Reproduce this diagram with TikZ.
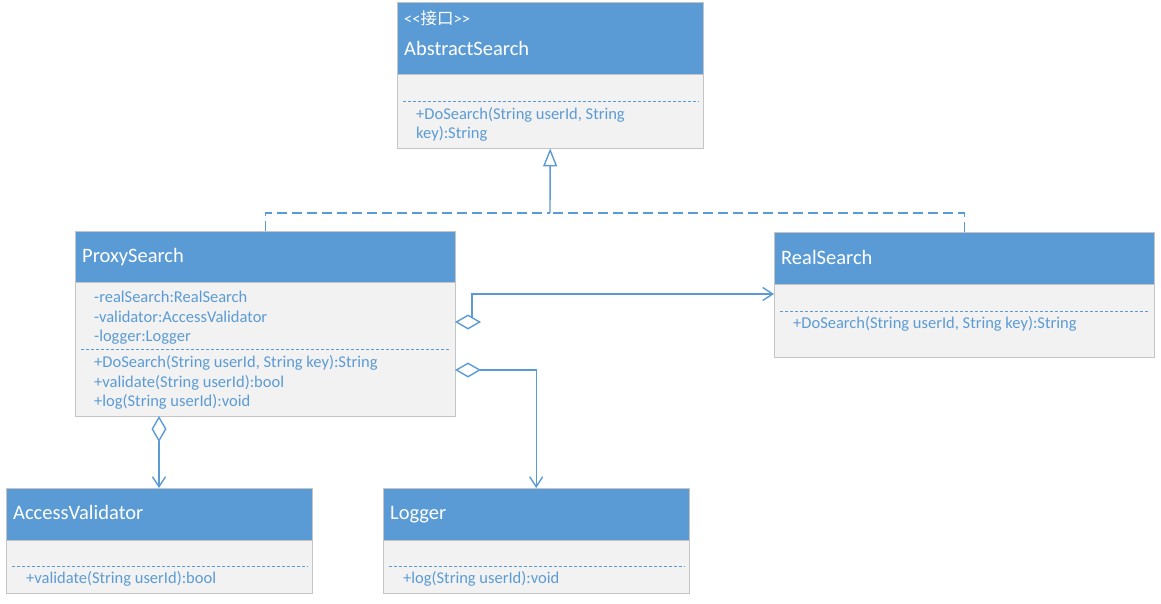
\documentclass[tikz,border=0pt]{standalone}
\usepackage{fontspec}
\setmainfont{Carlito}
\newfontfamily\cjk{Noto Sans CJK SC}
\usetikzlibrary{arrows.meta}
\definecolor{umlblue}{HTML}{5B9BD5}
\definecolor{bodygray}{HTML}{F2F2F2}
\definecolor{boxline}{HTML}{C4C4C4}
\tikzset{
  hdr/.style={draw=boxline, fill=umlblue, anchor=north west, inner sep=0pt},
  bdy/.style={draw=boxline, fill=bodygray, anchor=north west, inner sep=0pt},
  ttl/.style={anchor=base west, inner sep=0pt, text=white, font=\fontsize{20.5}{22}\selectfont},
  mbr/.style={anchor=base west, inner sep=0pt, text=umlblue, font=\fontsize{16.5}{18}\selectfont},
  sep/.style={draw=umlblue, line width=0.8pt, dash pattern=on 3pt off 2pt},
  link/.style={draw=umlblue, line width=1.4pt},
  agg/.style={link, {Diamond[fill=white, length=26pt, width=15pt]}-{Straight Barb[length=10pt, width=13pt]}}
}

\begin{document}
\begin{tikzpicture}[x=1pt,y=-1pt]
\useasboundingbox (0,0) rectangle (1161,603);
\node[hdr, minimum width=306pt, minimum height=72pt] (absH) at (397,2) {};
\node[bdy, minimum width=306pt, minimum height=74pt] (absB) at (397,74) {};
\draw[sep] (403,101) -- (699,101);
\node[ttl, font=\fontsize{16.5}{18}\selectfont] (absS) at (404,24) {{<}{<}{\cjk 接口}{>}{>}};
\node[ttl] (absT) at (404,55) {AbstractSearch};
\node[mbr] (absM1) at (416,119) {+DoSearch(String userId, String};
\node[mbr] (absM2) at (416,138) {key):String};

\node[hdr, minimum width=380pt, minimum height=51pt] (proxyH) at (75,231) {};
\node[bdy, minimum width=380pt, minimum height=134pt] (proxyB) at (75,282) {};
\draw[sep] (81,349) -- (450,349);
\node[ttl] (proxyT) at (82,262) {ProxySearch};
\node[mbr] (proxyA1) at (94,302) {-realSearch:RealSearch};
\node[mbr] (proxyA2) at (94,322) {-validator:AccessValidator};
\node[mbr] (proxyA3) at (94,341) {-logger:Logger};
\node[mbr] (proxyM1) at (94,367) {+DoSearch(String userId, String key):String};
\node[mbr] (proxyM2) at (94,387) {+validate(String userId):bool};
\node[mbr] (proxyM3) at (94,406) {+log(String userId):void};

\node[hdr, minimum width=380pt, minimum height=52pt] (realH) at (774,232) {};
\node[bdy, minimum width=380pt, minimum height=73pt] (realB) at (774,284) {};
\draw[sep] (780,311) -- (1150,311);
\node[ttl] (realT) at (781,264) {RealSearch};
\node[mbr] (realM1) at (793,328) {+DoSearch(String userId, String key):String};

\node[hdr, minimum width=306pt, minimum height=52pt] (accH) at (6,488) {};
\node[bdy, minimum width=306pt, minimum height=53pt] (accB) at (6,540) {};
\draw[sep] (12,566) -- (308,566);
\node[ttl] (accT) at (13,519) {AccessValidator};
\node[mbr] (accM1) at (26,583) {+validate(String userId):bool};

\node[hdr, minimum width=306pt, minimum height=52pt] (logH) at (383,488) {};
\node[bdy, minimum width=306pt, minimum height=53pt] (logB) at (383,540) {};
\draw[sep] (389,566) -- (685,566);
\node[ttl] (logT) at (390,519) {Logger};
\node[mbr] (logM1) at (403,583) {+log(String userId):void};

\coordinate (join) at (550,213);
\draw[link, dash pattern=on 10pt off 5pt] (proxyH.north) |- (join);
\draw[link, dash pattern=on 10pt off 5pt] (realH.north) |- (join);
\draw[link, -{Triangle[open, fill=white, length=18pt, width=14pt]}] (join) -- (absB.south);

\coordinate (aggR) at (455,322);
\coordinate (realIn) at (774,294);
\draw[agg] (aggR) -- (472,322) |- (realIn);
\coordinate (aggL) at (455,370);
\draw[agg] (aggL) -| (logH.north);
\coordinate (aggV) at (159,416);
\draw[agg] (aggV) -- (aggV |- accH.north);
\end{tikzpicture}
\end{document}
